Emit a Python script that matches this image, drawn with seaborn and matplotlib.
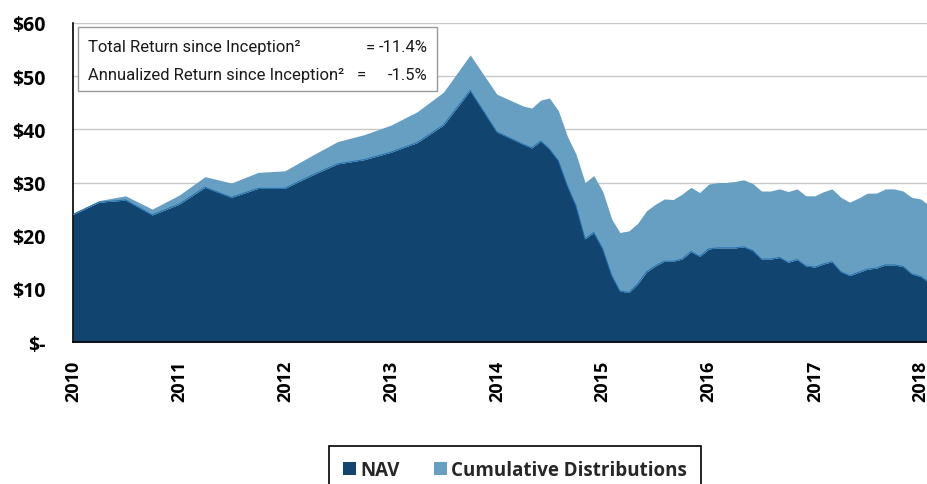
import numpy as np
import pandas as pd
import matplotlib
matplotlib.use("Agg")
import matplotlib.pyplot as plt
import matplotlib.dates as mdates
from matplotlib.patches import Patch, Rectangle
import seaborn as sns

# quarterly points up to 2014, monthly afterwards
dates = ["2010-01", "2010-04", "2010-07", "2010-10", "2011-01", "2011-04", "2011-07", "2011-10",
         "2012-01", "2012-04", "2012-07", "2012-10", "2013-01", "2013-04", "2013-07", "2013-10",
         "2014-01", "2014-04", "2014-05", "2014-06", "2014-07", "2014-08", "2014-09", "2014-10",
         "2014-11", "2014-12", "2015-01", "2015-02", "2015-03", "2015-04", "2015-05", "2015-06",
         "2015-07", "2015-08", "2015-09", "2015-10", "2015-11", "2015-12", "2016-01", "2016-02",
         "2016-03", "2016-04", "2016-05", "2016-06", "2016-07", "2016-08", "2016-09", "2016-10",
         "2016-11", "2016-12", "2017-01", "2017-02", "2017-03", "2017-04", "2017-05", "2017-06",
         "2017-07", "2017-08", "2017-09", "2017-10", "2017-11", "2017-12", "2018-01", "2018-02"]

nav = [24.0, 26.3, 26.7, 23.9, 25.9, 29.1, 27.2, 28.9,
       28.9, 31.3, 33.5, 34.3, 35.7, 37.5, 40.8, 47.3,
       39.5, 37.2, 36.5, 37.8, 36.3, 34.1, 29.4, 25.6,
       19.4, 20.6, 17.5, 12.5, 9.6, 9.3, 10.9, 13.2,
       14.3, 15.2, 15.2, 15.6, 17.0, 16.1, 17.5, 17.7,
       17.7, 17.7, 17.9, 17.2, 15.6, 15.6, 15.9, 15.0,
       15.5, 14.3, 14.1, 14.7, 15.1, 13.2, 12.5, 13.1,
       13.7, 13.9, 14.5, 14.5, 14.2, 12.8, 12.3, 11.1]

dist = [0.2, 0.3, 0.8, 1.1, 1.7, 2.0, 2.7, 3.0,
        3.3, 3.7, 4.2, 4.7, 5.1, 5.8, 6.2, 6.7,
        7.1, 7.2, 7.5, 7.7, 9.6, 9.4, 9.3, 9.7,
        10.6, 10.7, 10.8, 10.6, 11.0, 11.6, 11.4, 11.5,
        11.6, 11.7, 11.6, 12.2, 12.1, 12.0, 12.2, 12.3,
        12.3, 12.5, 12.6, 12.6, 12.8, 12.8, 12.9, 13.3,
        13.3, 13.2, 13.4, 13.6, 13.7, 14.0, 13.8, 14.0,
        14.3, 14.1, 14.3, 14.3, 14.2, 14.4, 14.6, 14.5]

labels = ["NAV", "Cumulative Distributions"]
stat_names = ["Total Return since Inception\u00b2", "Annualized Return since Inception\u00b2"]
stat_values = ["-11.4%", "-1.5%"]

nav_color = "#11446f"
dist_color = "#679fc2"

sns.set_theme(style="white")
plt.rcParams["font.family"] = ["Open Sans", "DejaVu Sans"]

df = pd.DataFrame({"date": pd.to_datetime(dates), "nav": nav, "dist": dist})

fig = plt.figure(figsize=(9.28, 4.85), dpi=100)
ax = fig.add_axes([73 / 928, 1 - 343 / 485, 1 - 73 / 928, (343 - 24) / 485])

ax.stackplot(df["date"], df["nav"], df["dist"], colors=[nav_color, dist_color],
             linewidth=0, zorder=2)
sns.lineplot(data=df, x="date", y="nav", color="#2673b0", linewidth=0.8, ax=ax, zorder=3)

ax.set_ylim(0, 60)
ax.set_xlim(pd.Timestamp("2010-01-01"), pd.Timestamp("2018-01-26"))
ax.set_yticks(range(0, 61, 10))
ax.set_yticklabels(["$-"] + [f"${v}" for v in range(10, 61, 10)])
ax.xaxis.set_major_locator(mdates.YearLocator())
ax.xaxis.set_major_formatter(mdates.DateFormatter("%Y"))
ax.set_xlabel("")
ax.set_ylabel("")

ax.yaxis.grid(True, color="#c8c8c8", linewidth=1, zorder=0)
ax.set_axisbelow(True)
for s in ["top", "right"]:
    ax.spines[s].set_visible(False)
ax.spines["left"].set_color("black")
ax.spines["bottom"].set_color("black")
ax.spines["left"].set_linewidth(1.2)
ax.spines["bottom"].set_linewidth(1.2)
ax.tick_params(axis="both", which="major", direction="out", length=7, width=1.2,
               color="#333333")
ax.tick_params(axis="y", labelsize=14, pad=13)
ax.tick_params(axis="x", labelsize=13, labelrotation=90, pad=6)
for t in ax.get_xticklabels() + ax.get_yticklabels():
    t.set_fontweight("bold")
    t.set_color("black")

# stats box
ax.add_patch(Rectangle((0.006, 0.787), 0.42, 0.2, transform=ax.transAxes,
                       facecolor="white", edgecolor="#999999", linewidth=1, zorder=5))
narrow = ["Roboto", "DejaVu Sans"]
rows_y = [0.925, 0.84]
eq_x = [(370 - 73) / 855, (361 - 73) / 855]
for name, val, y, ex in zip(stat_names, stat_values, rows_y, eq_x):
    ax.text(0.017, y, name, transform=ax.transAxes, fontsize=12,
            family=narrow, va="center", ha="left", color="#1a1a1a", zorder=6)
    ax.text(ex, y, "=", transform=ax.transAxes, fontsize=12,
            family=narrow, va="center", ha="center", color="#1a1a1a", zorder=6)
    ax.text((428 - 73) / 855, y, val, transform=ax.transAxes, fontsize=12,
            family=narrow, va="center", ha="right", color="#1a1a1a", zorder=6)

handles = [Patch(facecolor=nav_color, edgecolor="none"),
           Patch(facecolor=dist_color, edgecolor="none")]
leg = fig.legend(handles, labels, loc="upper center", ncol=2, frameon=True,
                 fancybox=False, edgecolor="black", framealpha=1, borderaxespad=0,
                 handlelength=0.7, handleheight=0.7, handletextpad=0.25, columnspacing=1.8,
                 borderpad=0.75, prop={"weight": "bold", "size": 13.5})
leg.get_frame().set_linewidth(1.2)
leg.set_bbox_to_anchor((515 / 928, 1 - 447 / 485), transform=fig.transFigure)

fig.savefig("out.png", dpi=100)
